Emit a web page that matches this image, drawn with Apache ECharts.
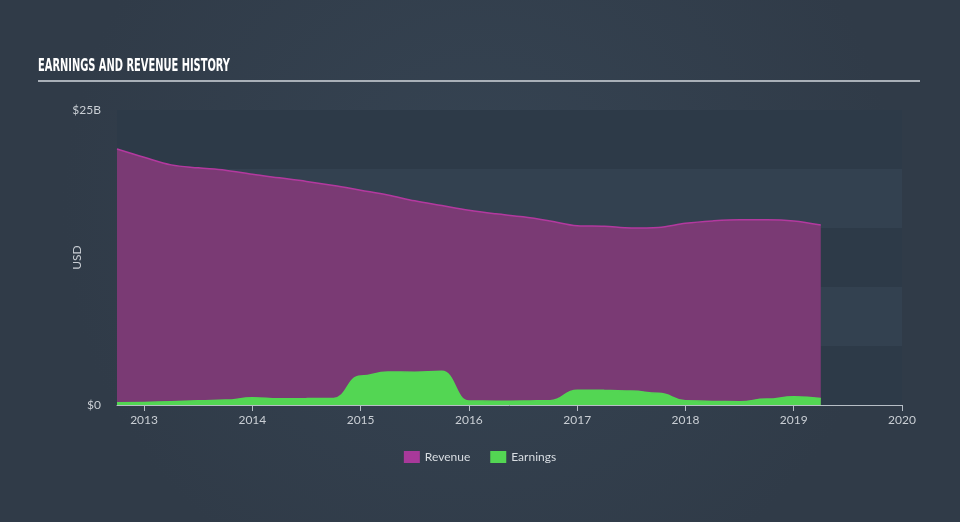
<!DOCTYPE html>
<html>
<head>
<meta charset="utf-8">
<script src="https://cdn.jsdelivr.net/npm/echarts@6/dist/echarts.min.js"></script>
<style>
html,body{margin:0;padding:0;background:#333f4e;}
#chart{width:960px;height:522px;}
</style>
</head>
<body>
<div id="chart"></div>
<script>
// Quarter ends as decimal years
var periods = [2012.75, 2013.0, 2013.25, 2013.5, 2013.75, 2014.0, 2014.25, 2014.5, 2014.75,
  2015.0, 2015.25, 2015.5, 2015.75, 2016.0, 2016.25, 2016.5, 2016.75,
  2017.0, 2017.25, 2017.5, 2017.75, 2018.0, 2018.25, 2018.5, 2018.75, 2019.0, 2019.25];
// USD billions
var revenue = [21.7, 21.0, 20.35, 20.1, 19.9, 19.55, 19.25, 18.95, 18.6,
  18.2, 17.8, 17.3, 16.9, 16.5, 16.2, 15.95, 15.6,
  15.2, 15.15, 15.0, 15.05, 15.4, 15.6, 15.7, 15.7, 15.6, 15.25];
var earnings = [0.2, 0.22, 0.28, 0.35, 0.42, 0.62, 0.52, 0.55, 0.56,
  2.46, 2.8, 2.78, 2.85, 0.34, 0.32, 0.33, 0.37,
  1.25, 1.24, 1.18, 0.99, 0.37, 0.3, 0.28, 0.5, 0.7, 0.56];
var yearTicks = [2013, 2014, 2015, 2016, 2017, 2018, 2019, 2020];
var yTickLabels = {0: '$0', 25: '$25B'};

function pairs(xs, ys){ return xs.map(function(x,i){ return [x, ys[i]]; }); }

var chart = echarts.init(document.getElementById('chart'), null, {renderer:'canvas'});
chart.setOption({
  backgroundColor: {
    type:'radial', x:0.5, y:0.4, r:0.8,
    colorStops:[{offset:0, color:'#364453'}, {offset:1, color:'#303b48'}]
  },
  animation: false,
  graphic: [
    {type:'text', left:38, top:57, scaleX:0.61, style:{text:'EARNINGS AND REVENUE HISTORY', fill:'#ffffff',
      font:"bold 18px 'DejaVu Sans Condensed', sans-serif"}},
    {type:'rect', shape:{x:38, y:80, width:882, height:2}, style:{fill:'#a9b0b8'}}
  ],
  grid: {left:117, right:58, top:110, bottom:117, containLabel:false},
  legend: {
    bottom: 54, left: 'center', itemWidth: 16, itemHeight: 12, itemGap: 20,
    icon: 'rect',
    textStyle: {color:'#d8dde2', fontSize:12, fontFamily:'Lato, sans-serif'},
    data: ['Revenue', 'Earnings']
  },
  xAxis: {
    type: 'value', min: 2012.75, max: 2020,
    axisLine: {show:true, lineStyle:{color:'#b7bec6', width:1}},
    axisTick: {show:true, customValues: yearTicks, length:6, lineStyle:{color:'#b7bec6'}},
    axisLabel: {customValues: yearTicks, color:'#c9ced4', fontSize:12, fontFamily:'Lato, sans-serif', margin:9,
      formatter: function(v){ return String(Math.round(v)); }},
    splitLine: {show:false}
  },
  yAxis: {
    type: 'value', min: 0, max: 25, interval: 5,
    name: 'USD', nameLocation: 'middle', nameGap: 34, nameRotate: 90, nameMoveOverlap: false,
    nameTextStyle: {color:'#c9ced4', fontSize:12, fontFamily:'Lato, sans-serif'},
    axisLine: {show:false}, axisTick: {show:false},
    axisLabel: {color:'#c9ced4', fontSize:12, fontFamily:'Lato, sans-serif', margin:16,
      formatter: function(v){ return yTickLabels[v] !== undefined ? yTickLabels[v] : ''; }},
    splitLine: {show:false},
    splitArea: {show:true, areaStyle:{color:['#2d3a48', '#334150']}}
  },
  series: [
    {name:'Revenue', type:'line', data: pairs(periods, revenue), smooth:0.35,
      symbol:'none', color:'#a8399a',
      lineStyle:{color:'#b3399f', width:1.5},
      areaStyle:{color:'#7a3a74', opacity:1}, z:2},
    {name:'Earnings', type:'line', data: pairs(periods, earnings), smooth:true, smoothMonotone:'x',
      symbol:'none', color:'#53d653',
      lineStyle:{color:'#53d653', width:1.5},
      areaStyle:{color:'#53d653', opacity:1}, z:3}
  ]
});
</script>
</body>
</html>
